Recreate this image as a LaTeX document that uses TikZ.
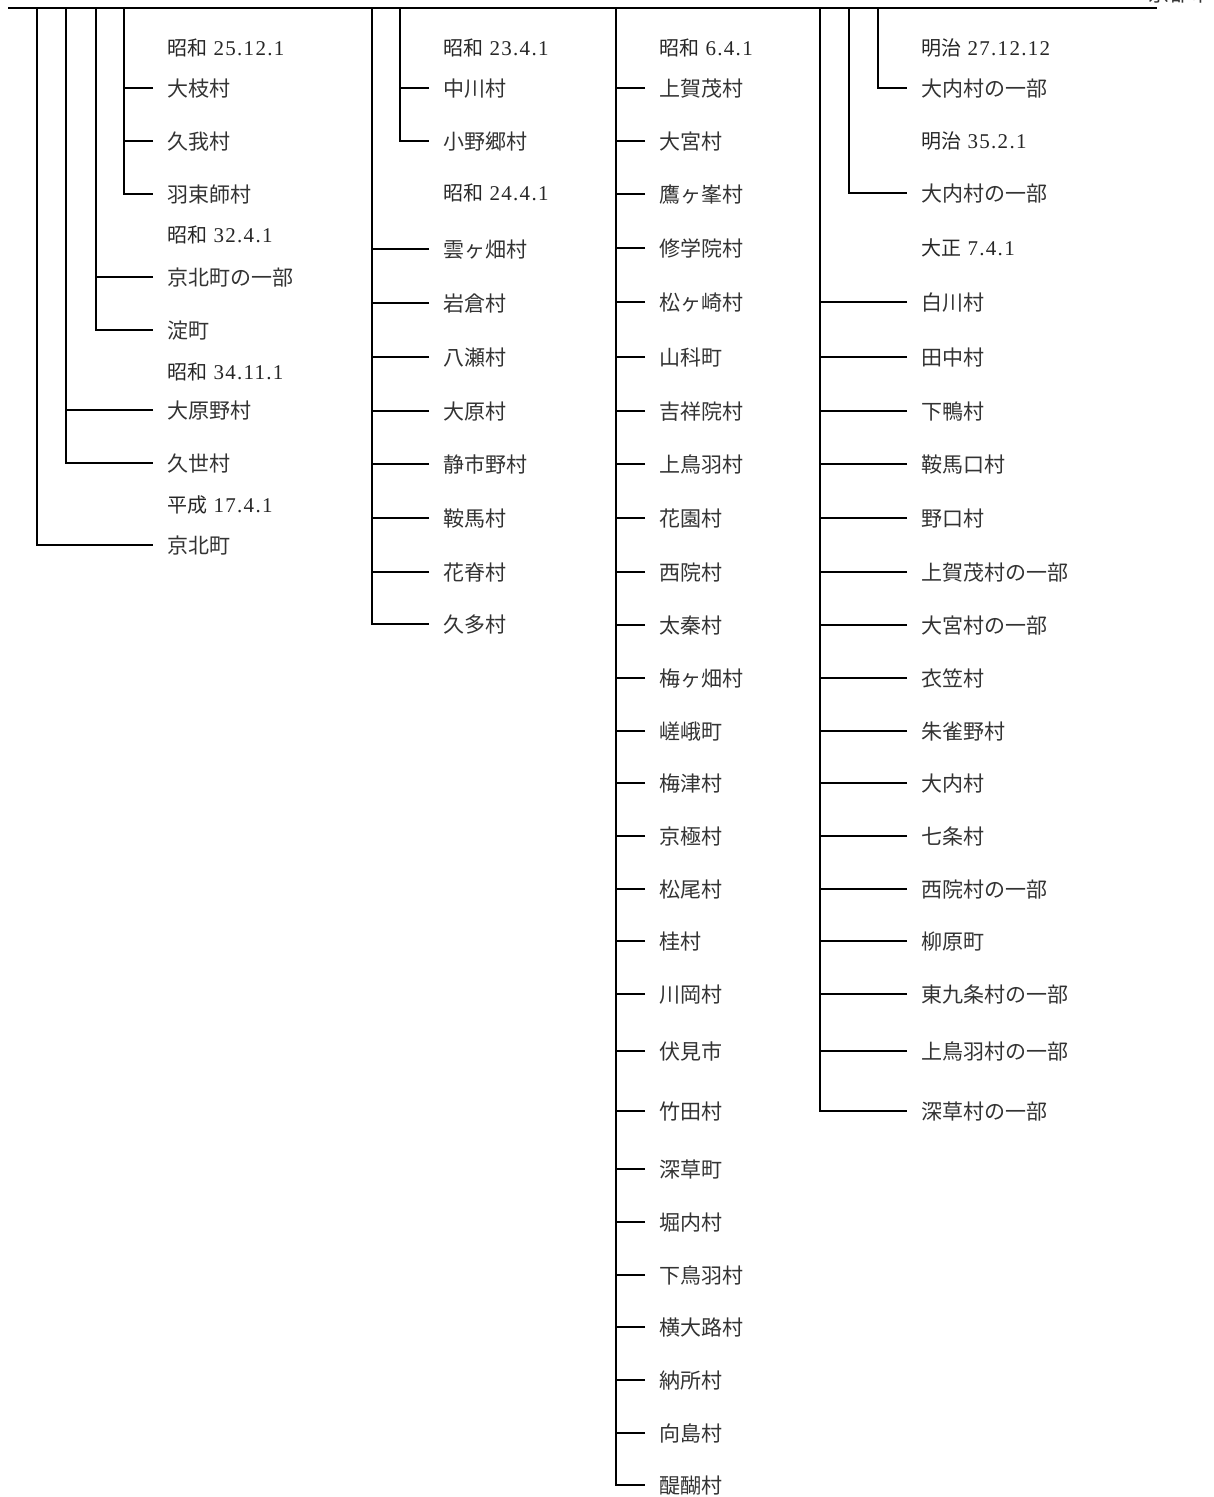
\documentclass[tikz,border=0pt]{standalone}
\usepackage{fontspec}
\newfontfamily\jpfont{Noto Sans CJK JP}
\newfontfamily\numfont{Liberation Serif}[LetterSpace=6]
\newcommand\J[1]{{\fontsize{20}{24}\selectfont\jpfont #1}}
\begin{document}
\begin{tikzpicture}[x=1pt,y=-1pt,
  conn/.style={line width=2.4pt, draw=black},
  lbl/.style={anchor=west, inner xsep=14pt, inner ysep=0pt, text height=18.5pt, text depth=2.5pt,
              font=\fontsize{21}{25}\selectfont\jpfont, text=black!80},
  dat/.style={anchor=west, inner xsep=14pt, inner ysep=0pt, text height=17.5pt, text depth=2.5pt,
              font=\fontsize{21}{25}\selectfont\numfont, text=black!85}]
\useasboundingbox (0,0) rectangle (1214,1497);

% title (cut by the page edge, as in the reference) and top line
\node[lbl, inner xsep=0pt] (title) at (1148,-7) {京都市};
\coordinate (L) at (8,8);
\coordinate (R) at (1157,8);
\draw[conn] (L) -- (R);

% vertical starts on the top line
\foreach \n/\x in {v1/37, v2/66, v3/96, v4/124, v5/372, v6/400, v7/616, v8/820, v9/849, v10/878}
  \coordinate (\n) at (\x,8);

% ---------------- column 1 ----------------
\node[dat] (d1a) at (153,48)  {\J{昭和} 25.12.1};
\node[lbl] (ooe) at (153,88) {大枝村};
\node[lbl] (koga) at (153,141) {久我村};
\node[lbl] (hazu) at (153,194) {羽束師村};
\node[dat] (d1b) at (153,235) {\J{昭和} 32.4.1};
\node[lbl] (kpart) at (153,277) {京北町の一部};
\node[lbl] (yodo) at (153,330) {淀町};
\node[dat] (d1c) at (153,372) {\J{昭和} 34.11.1};
\node[lbl] (oharano) at (153,410) {大原野村};
\node[lbl] (kuze) at (153,463) {久世村};
\node[dat] (d1d) at (153,505) {\J{平成} 17.4.1};
\node[lbl] (keihoku) at (153,545) {京北町};

\draw[conn] (v1) |- (keihoku.west);
\draw[conn] (v2) |- (kuze.west);
\draw[conn] (oharano.west) -- (oharano.west -| v2);
\draw[conn] (v3) |- (yodo.west);
\draw[conn] (kpart.west) -- (kpart.west -| v3);
\draw[conn] (v4) |- (hazu.west);
\draw[conn] (ooe.west) -- (ooe.west -| v4);
\draw[conn] (koga.west) -- (koga.west -| v4);

% ---------------- column 2 ----------------
\node[dat] (d2a) at (429,48) {\J{昭和} 23.4.1};
\node[lbl] (nakagawa) at (429,88) {中川村};
\node[lbl] (onogo) at (429,141) {小野郷村};
\node[dat] (d2b) at (429,193) {\J{昭和} 24.4.1};
\draw[conn] (v6) |- (onogo.west);
\draw[conn] (nakagawa.west) -- (nakagawa.west -| v6);
\foreach \n/\y/\t in {b1/249/雲ヶ畑村, b2/303/岩倉村, b3/357/八瀬村, b4/411/大原村,
                      b5/464/静市野村, b6/518/鞍馬村, b7/572/花脊村}{
  \node[lbl] (\n) at (429,\y) {\t};
  \draw[conn] (\n.west) -- (\n.west -| v5);
}
\node[lbl] (kuta) at (429,624) {久多村};
\draw[conn] (v5) |- (kuta.west);

% ---------------- column 3 ----------------
\node[dat] (d3) at (645,48) {\J{昭和} 6.4.1};
\foreach \n/\y/\t in {c1/88/上賀茂村, c2/141/大宮村, c3/194/鷹ヶ峯村, c4/248/修学院村,
                      c5/302/松ヶ崎村, c6/357/山科町, c7/411/吉祥院村, c8/464/上鳥羽村,
                      c9/518/花園村, c10/572/西院村, c11/625/太秦村, c12/678/梅ヶ畑村,
                      c13/731/嵯峨町, c14/783/梅津村, c15/836/京極村, c16/889/松尾村,
                      c17/941/桂村, c18/994/川岡村, c19/1051/伏見市, c20/1111/竹田村,
                      c21/1169/深草町, c22/1222/堀内村, c23/1275/下鳥羽村, c24/1327/横大路村,
                      c25/1380/納所村, c26/1433/向島村}{
  \node[lbl] (\n) at (645,\y) {\t};
  \draw[conn] (\n.west) -- (\n.west -| v7);
}
\node[lbl] (daigo) at (645,1485) {醍醐村};
\draw[conn] (v7) |- (daigo.west);

% ---------------- column 4 ----------------
\node[dat] (d4a) at (907,48) {\J{明治} 27.12.12};
\node[lbl] (ouchi1) at (907,88) {大内村の一部};
\node[dat] (d4b) at (907,141) {\J{明治} 35.2.1};
\node[lbl] (ouchi2) at (907,193) {大内村の一部};
\node[dat] (d4c) at (907,248) {\J{大正} 7.4.1};
\draw[conn] (v10) |- (ouchi1.west);
\draw[conn] (v9) |- (ouchi2.west);
\foreach \n/\y/\t in {e1/302/白川村, e2/357/田中村, e3/411/下鴨村, e4/464/鞍馬口村,
                      e5/518/野口村, e6/572/上賀茂村の一部, e7/625/大宮村の一部, e8/678/衣笠村,
                      e9/731/朱雀野村, e10/783/大内村, e11/836/七条村, e12/889/西院村の一部,
                      e13/941/柳原町, e14/994/東九条村の一部, e15/1051/上鳥羽村の一部}{
  \node[lbl] (\n) at (907,\y) {\t};
  \draw[conn] (\n.west) -- (\n.west -| v8);
}
\node[lbl] (fukakusa) at (907,1111) {深草村の一部};
\draw[conn] (v8) |- (fukakusa.west);
\end{tikzpicture}
\end{document}
